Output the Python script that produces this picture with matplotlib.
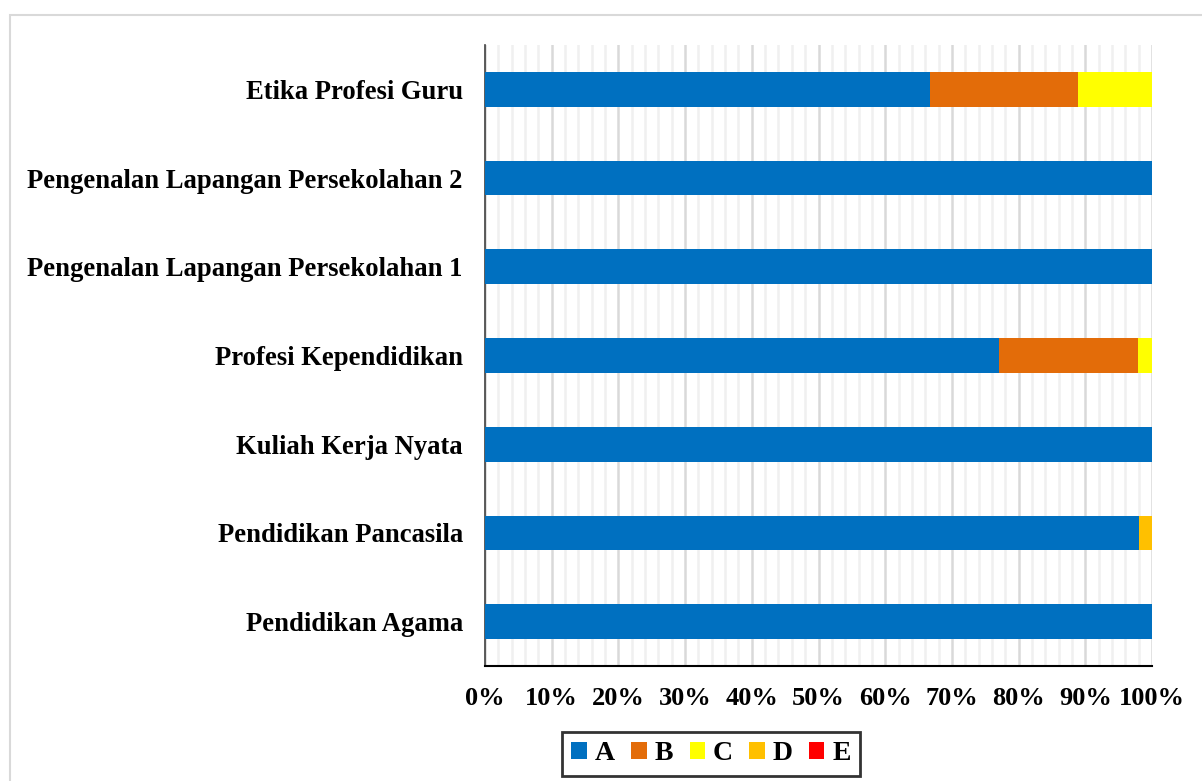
import matplotlib
matplotlib.use("Agg")
import matplotlib.pyplot as plt
from matplotlib.patches import Rectangle, Patch
from matplotlib.ticker import MultipleLocator, FuncFormatter
import numpy as np

categories = ["Pendidikan Agama", "Pendidikan Pancasila", "Kuliah Kerja Nyata",
              "Profesi Kependidikan", "Pengenalan Lapangan Persekolahan 1",
              "Pengenalan Lapangan Persekolahan 2", "Etika Profesi Guru"]
series_names = ["A", "B", "C", "D", "E"]
A = [100.0, 98.0, 100.0, 77.1, 100.0, 100.0, 66.7]
B = [0.0, 0.0, 0.0, 20.8, 0.0, 0.0, 22.2]
C = [0.0, 0.0, 0.0, 2.1, 0.0, 0.0, 11.1]
D = [0.0, 2.0, 0.0, 0.0, 0.0, 0.0, 0.0]
E = [0.0, 0.0, 0.0, 0.0, 0.0, 0.0, 0.0]
colors = ["#0070C0", "#E36C09", "#FFFF00", "#FFC000", "#FF0000"]

font = "Liberation Serif"
fig = plt.figure(figsize=(12.02, 7.81), dpi=100)
ax = fig.add_axes([485/1202, 1-666/781, (1152-485)/1202, (666-45)/781])

y = np.arange(len(categories))
left = np.zeros(len(categories))
for name, vals, col in zip(series_names, [A, B, C, D, E], colors):
    vals = np.array(vals)
    ax.barh(y, vals, left=left, height=0.39, color=col, label=name, zorder=3)
    left += vals

ax.set_xlim(0, 100)
ax.set_ylim(-0.5, len(categories)-0.5)
ax.set_yticks(y)
ax.set_yticklabels(categories, fontfamily=font, fontweight="bold", fontsize=19.2)
ax.xaxis.set_major_locator(MultipleLocator(10))
ax.xaxis.set_minor_locator(MultipleLocator(2))
ax.xaxis.set_major_formatter(FuncFormatter(lambda v, p: f"{int(round(v))}%"))
for lab in ax.get_xticklabels():
    lab.set_fontfamily(font)
    lab.set_fontweight("bold")
    lab.set_fontsize(19)
ax.tick_params(axis="x", which="both", length=0, pad=15)
ax.tick_params(axis="y", length=0, pad=16)
ax.grid(axis="x", which="major", color="#d9d9d9", lw=1.8, zorder=0)
ax.grid(axis="x", which="minor", color="#f0f0f0", lw=1.8, zorder=0)
ax.spines["top"].set_visible(False)
ax.spines["right"].set_visible(False)
ax.spines["left"].set_color("#404040")
ax.spines["bottom"].set_color("#000000")
ax.spines["left"].set_linewidth(1.2)
ax.spines["bottom"].set_linewidth(1.5)
ax.set_axisbelow(True)

handles = [Patch(facecolor=c, edgecolor="none", label=n) for n, c in zip(series_names, colors)]
leg = fig.legend(handles=handles, loc="center", bbox_to_anchor=(711/1202, 1-754/781),
                 ncol=5, frameon=True, fancybox=False, handlelength=0.55, handleheight=0.55,
                 handletextpad=0.28, columnspacing=0.6, borderpad=0.35,
                 prop={"family": font, "weight": "bold", "size": 20})
leg.get_frame().set_edgecolor("black")
leg.get_frame().set_linewidth(2)

fig.patches.append(Rectangle((10/1202, -0.1), 1.2, 0.1 + 1-15/781, transform=fig.transFigure,
                             fill=False, edgecolor="#d9d9d9", lw=1.5, clip_on=False))

fig.savefig("out.png", dpi=100)
